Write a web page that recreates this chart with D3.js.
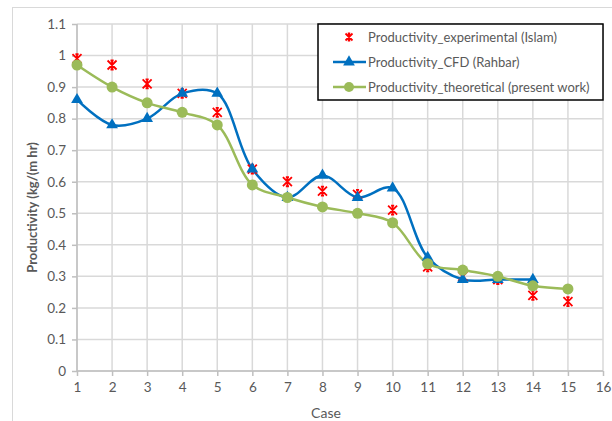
<!DOCTYPE html>
<html>
<head>
<meta charset="utf-8">
<script src="https://cdn.jsdelivr.net/npm/d3@7"></script>
<style>
  body { margin: 0; background: #fff; }
  text { font-family: Lato, "Open Sans", sans-serif; fill: #595959; }
</style>
</head>
<body>
<div id="chart"></div>
<script>
// data
var cases = [1, 2, 3, 4, 5, 6, 7, 8, 9, 10, 11, 12, 13, 14, 15];
var experimental = [0.99, 0.97, 0.91, 0.88, 0.82, 0.64, 0.60, 0.57, 0.56, 0.51, 0.33, 0.30, 0.29, 0.24, 0.22];
var cfd = [0.86, 0.78, 0.80, 0.88, 0.88, 0.64, 0.55, 0.62, 0.55, 0.58, 0.36, 0.29, 0.29, 0.29];
var theoretical = [0.97, 0.90, 0.85, 0.82, 0.78, 0.59, 0.55, 0.52, 0.50, 0.47, 0.34, 0.32, 0.30, 0.27, 0.26];
var xTicks = d3.range(1, 17);
var yTicks = [0, 0.1, 0.2, 0.3, 0.4, 0.5, 0.6, 0.7, 0.8, 0.9, 1, 1.1];
var legendNames = ["Productivity_experimental (Islam)", "Productivity_CFD (Rahbar)", "Productivity_theoretical (present work)"];

var W = 612, H = 421;
var margin = { top: 24, right: 9, bottom: 50, left: 77 };
var width = W - margin.left - margin.right;
var height = H - margin.top - margin.bottom;

var root = d3.select("#chart").append("svg")
  .attr("width", W)
  .attr("height", H);

// outer chart frame (cut off at right / bottom)
root.append("rect")
  .attr("x", 12.5).attr("y", 7.5)
  .attr("width", 620).attr("height", 430)
  .attr("fill", "none").attr("stroke", "#d9d9d9");

var svg = root.append("g")
  .attr("transform", "translate(" + margin.left + "," + margin.top + ")");

var xScale = d3.scaleLinear().domain([1, 16]).range([0, width]);
var yScale = d3.scaleLinear().domain([0, 1.1]).range([height, 0]);

// grid
svg.selectAll(".hgrid").data(yTicks).enter().append("line")
  .attr("x1", 0).attr("x2", width)
  .attr("y1", function(d) { return yScale(d); })
  .attr("y2", function(d) { return yScale(d); })
  .attr("stroke", "#d9d9d9").attr("stroke-width", 1.5);
svg.selectAll(".vgrid").data(xTicks).enter().append("line")
  .attr("y1", 0).attr("y2", height)
  .attr("x1", function(d) { return xScale(d); })
  .attr("x2", function(d) { return xScale(d); })
  .attr("stroke", "#d9d9d9").attr("stroke-width", 1.5);

// axes
var xAxis = svg.append("g")
  .attr("transform", "translate(0," + height + ")")
  .call(d3.axisBottom(xScale).tickValues(xTicks).tickSize(5).tickPadding(6).tickFormat(d3.format("d")));
var yAxis = svg.append("g")
  .call(d3.axisLeft(yScale).tickValues(yTicks).tickSize(5).tickPadding(6).tickFormat(function(d) { return d3.format("")(+d.toFixed(1)); }));
[xAxis, yAxis].forEach(function(a) {
  a.selectAll("path, line").attr("stroke", "#bfbfbf").attr("stroke-width", 1.5);
  a.selectAll("text").style("font-size", "13.5px").style("fill", "#595959");
});
xAxis.select(".domain").attr("d", "M0,0H" + width);
yAxis.select(".domain").attr("d", "M0," + height + "V0");

// axis titles
root.append("text")
  .attr("transform", "translate(37," + (margin.top + height / 2 + 10) + ") rotate(-90)")
  .attr("text-anchor", "middle")
  .style("font-size", "13px").style("font-weight", "bold")
  .text("Productivity (kg/(m hr)");
root.append("text")
  .attr("x", margin.left + xScale(8.1)).attr("y", 418)
  .attr("text-anchor", "middle")
  .style("font-size", "14px")
  .text("Case");

// lines
var blue = "#0070c0", green = "#9bbb59", red = "#ff0000";
var line = d3.line()
  .x(function(d, i) { return xScale(cases[i]); })
  .y(function(d) { return yScale(d); })
  .curve(d3.curveCatmullRom.alpha(0.5));

svg.append("path").datum(cfd)
  .attr("d", line).attr("fill", "none").attr("stroke", blue).attr("stroke-width", 2.5);
svg.append("path").datum(theoretical)
  .attr("d", line).attr("fill", "none").attr("stroke", green).attr("stroke-width", 2.5);

var tri = d3.symbol().type(d3.symbolTriangle).size(60);
var star = function(s) {
  return "M" + (-s) + "," + (-s) + "L" + s + "," + s +
    "M" + (-s) + "," + s + "L" + s + "," + (-s) +
    "M0," + (-s * 1.1) + "V" + (s * 1.1) +
    "M" + (-s * 0.35) + "," + (-s) + "H" + (s * 0.35) +
    "M" + (-s * 0.35) + "," + s + "H" + (s * 0.35);
};

// experimental stars (drawn beneath the other markers)
svg.selectAll(".exp").data(experimental).enter().append("path")
  .attr("transform", function(d, i) { return "translate(" + xScale(cases[i]) + "," + yScale(d) + ")"; })
  .attr("d", star(4.5))
  .attr("fill", "none").attr("stroke", red).attr("stroke-width", 1.8);

svg.selectAll(".cfd").data(cfd).enter().append("path")
  .attr("transform", function(d, i) { return "translate(" + xScale(cases[i]) + "," + yScale(d) + ")"; })
  .attr("d", tri).attr("fill", blue);

svg.selectAll(".theo").data(theoretical).enter().append("circle")
  .attr("cx", function(d, i) { return xScale(cases[i]); })
  .attr("cy", function(d) { return yScale(d); })
  .attr("r", 5.5).attr("fill", green);

// legend
var lg = root.append("g").attr("transform", "translate(318,24)");
lg.append("rect")
  .attr("width", 285).attr("height", 76)
  .attr("fill", "#fff").attr("stroke", "#000").attr("stroke-width", 1.5);
var rows = lg.selectAll(".row").data(legendNames).enter().append("g")
  .attr("transform", function(d, i) { return "translate(0," + (13 + i * 25) + ")"; });
rows.append("text")
  .attr("x", 50).attr("y", 4.5)
  .style("font-size", "13px")
  .text(function(d) { return d; });
rows.filter(function(d, i) { return i === 0; }).append("path")
  .attr("transform", "translate(31,0)").attr("d", star(3.5))
  .attr("fill", "none").attr("stroke", red).attr("stroke-width", 1.8);
rows.filter(function(d, i) { return i > 0; }).append("line")
  .attr("x1", 15).attr("x2", 48)
  .attr("stroke", function(d, i) { return i === 0 ? blue : green; })
  .attr("stroke-width", 2.5);
rows.filter(function(d, i) { return i === 1; }).append("path")
  .attr("transform", "translate(31,0)").attr("d", tri).attr("fill", blue);
rows.filter(function(d, i) { return i === 2; }).append("circle")
  .attr("cx", 31).attr("r", 5).attr("fill", green);
</script>
</body>
</html>
